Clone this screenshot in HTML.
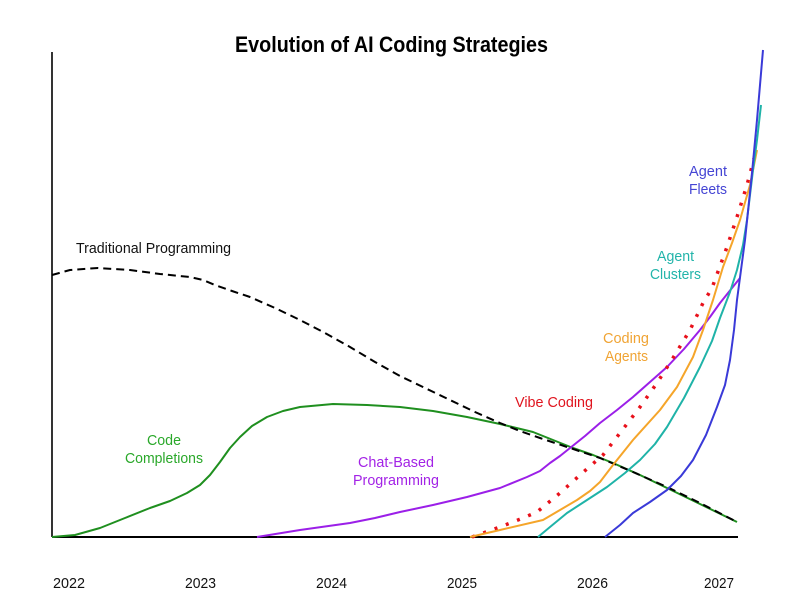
<!DOCTYPE html>
<html>
<head>
<meta charset="utf-8">
<style>
  html,body{margin:0;padding:0;background:#fff;}
  svg{display:block;}
  text{font-family:"Liberation Sans", Arial, sans-serif;}
</style>
</head>
<body>
<svg width="800" height="600" viewBox="0 0 800 600" xmlns="http://www.w3.org/2000/svg">
  <rect width="800" height="600" fill="#fff"/>
  <!-- Title -->
  <text x="235" y="52" font-size="22" font-weight="bold" fill="#000" textLength="313" lengthAdjust="spacingAndGlyphs">Evolution of AI Coding Strategies</text>

  <!-- Axes -->
  <line x1="52" y1="52" x2="52" y2="537" stroke="#000" stroke-width="1.6"/>
  <line x1="52" y1="537" x2="738" y2="537" stroke="#000" stroke-width="2"/>

  <!-- Year labels -->
  <g font-size="15" fill="#111">
    <text x="53" y="588" textLength="32" lengthAdjust="spacingAndGlyphs">2022</text>
    <text x="185" y="588" textLength="31" lengthAdjust="spacingAndGlyphs">2023</text>
    <text x="316" y="588" textLength="31" lengthAdjust="spacingAndGlyphs">2024</text>
    <text x="447" y="588" textLength="30" lengthAdjust="spacingAndGlyphs">2025</text>
    <text x="577" y="588" textLength="31" lengthAdjust="spacingAndGlyphs">2026</text>
    <text x="704" y="588" textLength="30" lengthAdjust="spacingAndGlyphs">2027</text>
  </g>

  <!-- Code Completions (green) -->
  <polyline fill="none" stroke="#1f8f1f" stroke-width="2" stroke-linejoin="round"
    points="52,537 75,535 100,528 125,518 150,508 170,501 187,493 200,485 210,475 220,462 230,448 240,437 252,426 267,417 283,411 300,407 333,404 367,405 400,407 433,411 467,417 500,424 533,432 553,440 573,448 593,455 613,463 640,475 667,488 700,504 737,522"/>

  <!-- Traditional Programming (dashed black) -->
  <polyline fill="none" stroke="#000" stroke-width="2" stroke-dasharray="8 5" stroke-linejoin="round"
    points="52,275 70,270 98,268 130,270 160,274 190,277 203,280 215,285 232,291 250,297 275,308 300,320 325,333 350,347 375,362 400,376 425,388 450,400 475,412 500,423 520,431 540,438 570,448 600,458 633,472 667,487 700,503 737,522"/>

  <!-- Chat-Based Programming (purple) -->
  <polyline fill="none" stroke="#9b1fe8" stroke-width="2" stroke-linejoin="round"
    points="257,537 300,530 350,523 375,518 400,512 433,505 467,497 500,488 527,477 540,471 550,463 560,456 570,448 585,436 600,423 617,410 633,397 650,382 667,367 684,349 700,330 710,317 720,303 740,278"/>

  <!-- Vibe Coding (red dotted) -->
  <polyline fill="none" stroke="#e8101a" stroke-width="3.5" stroke-dasharray="3 9" stroke-linejoin="round"
    points="472,537 500,527 523,518 537,512 560,493 580,475 603,455 620,433 640,407 657,383 673,358 690,330 703,303 712,288 727,247 737,217 747,185 755,155"/>

  <!-- Coding Agents (orange) -->
  <polyline fill="none" stroke="#f5a52a" stroke-width="2" stroke-linejoin="round"
    points="470,537 500,530 543,520 560,510 577,500 590,491 600,482 613,465 633,440 660,410 677,387 693,357 703,330 713,300 723,267 732,243 740,220 750,185 757,150"/>

  <!-- Agent Clusters (cyan) -->
  <polyline fill="none" stroke="#1fb3a8" stroke-width="2" stroke-linejoin="round"
    points="538,537 550,527 567,513 587,500 607,487 625,473 640,460 655,444 667,427 684,398 700,367 712,341 720,318 730,292 737,270 743,245 747,220 753,170 757,140 761,105"/>

  <!-- Agent Fleets (blue) -->
  <polyline fill="none" stroke="#3a3ad8" stroke-width="2" stroke-linejoin="round"
    points="605,537 620,525 633,513 650,502 667,490 681,476 693,460 706,435 717,407 725,385 730,360 734,330 737,300 741,270 745,240 752,173 757,120 763,50"/>

  <!-- Labels -->
  <text x="76" y="253" font-size="15" fill="#111" textLength="155" lengthAdjust="spacingAndGlyphs">Traditional Programming</text>

  <g fill="#2aa82a" font-size="15">
    <text x="147" y="445" textLength="34" lengthAdjust="spacingAndGlyphs">Code</text>
    <text x="125" y="463" textLength="78" lengthAdjust="spacingAndGlyphs">Completions</text>
  </g>

  <g fill="#a323e6" font-size="15">
    <text x="358" y="467" textLength="76" lengthAdjust="spacingAndGlyphs">Chat-Based</text>
    <text x="353" y="485" textLength="86" lengthAdjust="spacingAndGlyphs">Programming</text>
  </g>

  <text x="515" y="407" font-size="15" fill="#e0141e" textLength="78" lengthAdjust="spacingAndGlyphs">Vibe Coding</text>

  <g fill="#f0a434" font-size="15">
    <text x="603" y="343" textLength="46" lengthAdjust="spacingAndGlyphs">Coding</text>
    <text x="605" y="361" textLength="43" lengthAdjust="spacingAndGlyphs">Agents</text>
  </g>

  <g fill="#22b4aa" font-size="15">
    <text x="657" y="261" textLength="37" lengthAdjust="spacingAndGlyphs">Agent</text>
    <text x="650" y="279" textLength="51" lengthAdjust="spacingAndGlyphs">Clusters</text>
  </g>

  <g fill="#4545d4" font-size="15">
    <text x="689" y="176" textLength="38" lengthAdjust="spacingAndGlyphs">Agent</text>
    <text x="689" y="194" textLength="38" lengthAdjust="spacingAndGlyphs">Fleets</text>
  </g>
</svg>
</body>
</html>
